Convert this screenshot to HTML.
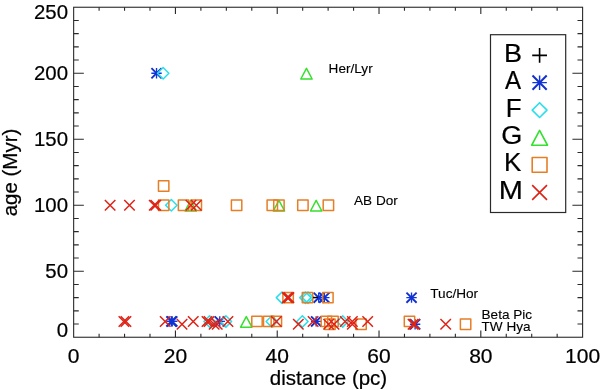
<!DOCTYPE html>
<html><head><meta charset="utf-8"><title>age vs distance</title>
<style>html,body{margin:0;padding:0;background:#fff}svg{display:block}text{font-family:"Liberation Sans",Arial,Helvetica,sans-serif;fill:#000}</style></head><body>
<svg width="600" height="390" viewBox="0 0 600 390">
<rect width="600" height="390" fill="#fff"/>
<rect x="73.65" y="7.25" width="508.95" height="330.00" fill="none" stroke="#2a2a2a" stroke-width="1.1"/>
<path d="M99.10 337.25v-3.4M99.10 7.25v3.4M124.55 337.25v-3.4M124.55 7.25v3.4M149.99 337.25v-3.4M149.99 7.25v3.4M175.44 337.25v-6.8M175.44 7.25v6.8M200.89 337.25v-3.4M200.89 7.25v3.4M226.34 337.25v-3.4M226.34 7.25v3.4M251.78 337.25v-3.4M251.78 7.25v3.4M277.23 337.25v-6.8M277.23 7.25v6.8M302.68 337.25v-3.4M302.68 7.25v3.4M328.12 337.25v-3.4M328.12 7.25v3.4M353.57 337.25v-3.4M353.57 7.25v3.4M379.02 337.25v-6.8M379.02 7.25v6.8M404.47 337.25v-3.4M404.47 7.25v3.4M429.91 337.25v-3.4M429.91 7.25v3.4M455.36 337.25v-3.4M455.36 7.25v3.4M480.81 337.25v-6.8M480.81 7.25v6.8M506.26 337.25v-3.4M506.26 7.25v3.4M531.71 337.25v-3.4M531.71 7.25v3.4M557.15 337.25v-3.4M557.15 7.25v3.4M73.65 324.05h5.1M582.6 324.05h-5.1M73.65 310.85h5.1M582.6 310.85h-5.1M73.65 297.65h5.1M582.6 297.65h-5.1M73.65 284.45h5.1M582.6 284.45h-5.1M73.65 271.25h10.2M582.6 271.25h-10.2M73.65 258.05h5.1M582.6 258.05h-5.1M73.65 244.85h5.1M582.6 244.85h-5.1M73.65 231.65h5.1M582.6 231.65h-5.1M73.65 218.45h5.1M582.6 218.45h-5.1M73.65 205.25h10.2M582.6 205.25h-10.2M73.65 192.05h5.1M582.6 192.05h-5.1M73.65 178.85h5.1M582.6 178.85h-5.1M73.65 165.65h5.1M582.6 165.65h-5.1M73.65 152.45h5.1M582.6 152.45h-5.1M73.65 139.25h10.2M582.6 139.25h-10.2M73.65 126.05h5.1M582.6 126.05h-5.1M73.65 112.85h5.1M582.6 112.85h-5.1M73.65 99.65h5.1M582.6 99.65h-5.1M73.65 86.45h5.1M582.6 86.45h-5.1M73.65 73.25h10.2M582.6 73.25h-10.2M73.65 60.05h5.1M582.6 60.05h-5.1M73.65 46.85h5.1M582.6 46.85h-5.1M73.65 33.65h5.1M582.6 33.65h-5.1M73.65 20.45h5.1M582.6 20.45h-5.1" stroke="#2a2a2a" stroke-width="1.1" fill="none"/>
<text transform="translate(73.7 362.6) scale(1.03 1)" font-size="20.4" text-anchor="middle" stroke="#000" stroke-width="0.22">0</text>
<text transform="translate(175.4 362.6) scale(1.03 1)" font-size="20.4" text-anchor="middle" stroke="#000" stroke-width="0.22">20</text>
<text transform="translate(277.2 362.6) scale(1.03 1)" font-size="20.4" text-anchor="middle" stroke="#000" stroke-width="0.22">40</text>
<text transform="translate(379.0 362.6) scale(1.03 1)" font-size="20.4" text-anchor="middle" stroke="#000" stroke-width="0.22">60</text>
<text transform="translate(480.8 362.6) scale(1.03 1)" font-size="20.4" text-anchor="middle" stroke="#000" stroke-width="0.22">80</text>
<text transform="translate(582.6 362.6) scale(1.03 1)" font-size="20.4" text-anchor="middle" stroke="#000" stroke-width="0.22">100</text>
<text transform="translate(68 18.8)" font-size="20.4" text-anchor="end" stroke="#000" stroke-width="0.22">250</text>
<text transform="translate(68 79.9)" font-size="20.4" text-anchor="end" stroke="#000" stroke-width="0.22">200</text>
<text transform="translate(68 145.9)" font-size="20.4" text-anchor="end" stroke="#000" stroke-width="0.22">150</text>
<text transform="translate(68 211.7)" font-size="20.4" text-anchor="end" stroke="#000" stroke-width="0.22">100</text>
<text transform="translate(68 277.7)" font-size="20.4" text-anchor="end" stroke="#000" stroke-width="0.22">50</text>
<text transform="translate(68 336.8)" font-size="20.4" text-anchor="end" stroke="#000" stroke-width="0.22">0</text>
<text transform="translate(328.5 385)" font-size="20.5" text-anchor="middle" stroke="#000" stroke-width="0.22">distance (pc)</text>
<text transform="translate(16.6 172.5) rotate(-90)" font-size="20.5" text-anchor="middle" stroke="#000" stroke-width="0.22">age (Myr)</text>
<path d="M151.34 73.25H161.72M156.53 68.06V78.44" stroke="#0838ea" stroke-width="1.35" fill="none"/><path d="M151.44 68.16L161.62 78.34M151.44 78.34L161.62 68.16" stroke="#1430cc" stroke-width="1.88" fill="none"/>
<path d="M313.52 297.65H323.90M318.71 292.46V302.84" stroke="#0838ea" stroke-width="1.35" fill="none"/><path d="M313.62 292.56L323.80 302.74M313.62 302.74L323.80 292.56" stroke="#1430cc" stroke-width="1.88" fill="none"/>
<path d="M319.13 297.65H329.51M324.32 292.46V302.84" stroke="#0838ea" stroke-width="1.35" fill="none"/><path d="M319.23 292.56L329.41 302.74M319.23 302.74L329.41 292.56" stroke="#1430cc" stroke-width="1.88" fill="none"/>
<path d="M406.34 297.65H416.72M411.53 292.46V302.84" stroke="#0838ea" stroke-width="1.35" fill="none"/><path d="M406.44 292.56L416.62 302.74M406.44 302.74L416.62 292.56" stroke="#1430cc" stroke-width="1.88" fill="none"/>
<path d="M166.23 321.41H176.62M171.42 316.22V326.60" stroke="#0838ea" stroke-width="1.35" fill="none"/><path d="M166.33 316.32L176.51 326.50M166.33 326.50L176.51 316.32" stroke="#1430cc" stroke-width="1.88" fill="none"/>
<path d="M167.04 321.41H177.43M172.24 316.22V326.60" stroke="#0838ea" stroke-width="1.35" fill="none"/><path d="M167.15 316.32L177.33 326.50M167.15 326.50L177.33 316.32" stroke="#1430cc" stroke-width="1.88" fill="none"/>
<path d="M214.58 321.41H224.96M219.77 316.22V326.60" stroke="#0838ea" stroke-width="1.35" fill="none"/><path d="M214.68 316.32L224.86 326.50M214.68 326.50L224.86 316.32" stroke="#1430cc" stroke-width="1.88" fill="none"/>
<path d="M310.97 321.41H321.35M316.16 316.22V326.60" stroke="#0838ea" stroke-width="1.35" fill="none"/><path d="M311.07 316.32L321.25 326.50M311.07 326.50L321.25 316.32" stroke="#1430cc" stroke-width="1.88" fill="none"/>
<path d="M409.91 324.25H420.29M415.10 319.05V329.44" stroke="#0838ea" stroke-width="1.35" fill="none"/><path d="M410.01 319.16L420.19 329.34M410.01 329.34L420.19 319.16" stroke="#1430cc" stroke-width="1.88" fill="none"/>
<path d="M157.46 73.25L163.16 67.55L168.86 73.25L163.16 78.95Z" stroke="#2adfec" stroke-width="1.5" fill="none" stroke-linejoin="round"/>
<path d="M165.62 205.25L171.32 199.55L177.02 205.25L171.32 210.95Z" stroke="#2adfec" stroke-width="1.5" fill="none" stroke-linejoin="round"/>
<path d="M276.29 297.65L281.99 291.95L287.69 297.65L281.99 303.35Z" stroke="#2adfec" stroke-width="1.5" fill="none" stroke-linejoin="round"/>
<path d="M299.75 297.65L305.45 291.95L311.15 297.65L305.45 303.35Z" stroke="#2adfec" stroke-width="1.5" fill="none" stroke-linejoin="round"/>
<path d="M302.30 297.65L308.00 291.95L313.70 297.65L308.00 303.35Z" stroke="#2adfec" stroke-width="1.5" fill="none" stroke-linejoin="round"/>
<path d="M203.87 321.41L209.57 315.71L215.27 321.41L209.57 327.11Z" stroke="#2adfec" stroke-width="1.5" fill="none" stroke-linejoin="round"/>
<path d="M220.19 321.41L225.89 315.71L231.59 321.41L225.89 327.11Z" stroke="#2adfec" stroke-width="1.5" fill="none" stroke-linejoin="round"/>
<path d="M266.09 321.41L271.79 315.71L277.49 321.41L271.79 327.11Z" stroke="#2adfec" stroke-width="1.5" fill="none" stroke-linejoin="round"/>
<path d="M296.69 321.41L302.39 315.71L308.09 321.41L302.39 327.11Z" stroke="#2adfec" stroke-width="1.5" fill="none" stroke-linejoin="round"/>
<path d="M336.98 321.41L342.68 315.71L348.38 321.41L342.68 327.11Z" stroke="#2adfec" stroke-width="1.5" fill="none" stroke-linejoin="round"/>
<path d="M300.80 79.00L306.47 68.40L312.14 79.00Z" stroke="#36e02e" stroke-width="1.5" fill="none" stroke-linejoin="round"/>
<path d="M185.03 211.00L190.70 200.40L196.37 211.00Z" stroke="#36e02e" stroke-width="1.5" fill="none" stroke-linejoin="round"/>
<path d="M273.26 211.00L278.93 200.40L284.60 211.00Z" stroke="#36e02e" stroke-width="1.5" fill="none" stroke-linejoin="round"/>
<path d="M310.49 211.00L316.16 200.40L321.83 211.00Z" stroke="#36e02e" stroke-width="1.5" fill="none" stroke-linejoin="round"/>
<path d="M240.62 327.16L246.29 316.56L251.96 327.16Z" stroke="#36e02e" stroke-width="1.5" fill="none" stroke-linejoin="round"/>
<rect x="158.47" y="180.78" width="10.40" height="10.40" stroke="#e67e26" stroke-width="1.5" fill="none" stroke-linejoin="round"/>
<rect x="158.47" y="200.05" width="10.40" height="10.40" stroke="#e67e26" stroke-width="1.5" fill="none" stroke-linejoin="round"/>
<rect x="178.36" y="200.05" width="10.40" height="10.40" stroke="#e67e26" stroke-width="1.5" fill="none" stroke-linejoin="round"/>
<rect x="191.11" y="200.05" width="10.40" height="10.40" stroke="#e67e26" stroke-width="1.5" fill="none" stroke-linejoin="round"/>
<rect x="231.40" y="200.05" width="10.40" height="10.40" stroke="#e67e26" stroke-width="1.5" fill="none" stroke-linejoin="round"/>
<rect x="267.10" y="200.05" width="10.40" height="10.40" stroke="#e67e26" stroke-width="1.5" fill="none" stroke-linejoin="round"/>
<rect x="273.73" y="200.05" width="10.40" height="10.40" stroke="#e67e26" stroke-width="1.5" fill="none" stroke-linejoin="round"/>
<rect x="297.70" y="200.05" width="10.40" height="10.40" stroke="#e67e26" stroke-width="1.5" fill="none" stroke-linejoin="round"/>
<rect x="323.20" y="200.05" width="10.40" height="10.40" stroke="#e67e26" stroke-width="1.5" fill="none" stroke-linejoin="round"/>
<rect x="282.91" y="292.45" width="10.40" height="10.40" stroke="#e67e26" stroke-width="1.5" fill="none" stroke-linejoin="round"/>
<rect x="302.29" y="292.45" width="10.40" height="10.40" stroke="#e67e26" stroke-width="1.5" fill="none" stroke-linejoin="round"/>
<rect x="322.69" y="292.45" width="10.40" height="10.40" stroke="#e67e26" stroke-width="1.5" fill="none" stroke-linejoin="round"/>
<rect x="251.80" y="316.21" width="10.40" height="10.40" stroke="#e67e26" stroke-width="1.5" fill="none" stroke-linejoin="round"/>
<rect x="263.53" y="316.21" width="10.40" height="10.40" stroke="#e67e26" stroke-width="1.5" fill="none" stroke-linejoin="round"/>
<rect x="271.18" y="316.21" width="10.40" height="10.40" stroke="#e67e26" stroke-width="1.5" fill="none" stroke-linejoin="round"/>
<rect x="321.16" y="316.21" width="10.40" height="10.40" stroke="#e67e26" stroke-width="1.5" fill="none" stroke-linejoin="round"/>
<rect x="327.79" y="316.21" width="10.40" height="10.40" stroke="#e67e26" stroke-width="1.5" fill="none" stroke-linejoin="round"/>
<rect x="404.29" y="316.21" width="10.40" height="10.40" stroke="#e67e26" stroke-width="1.5" fill="none" stroke-linejoin="round"/>
<rect x="324.73" y="319.05" width="10.40" height="10.40" stroke="#e67e26" stroke-width="1.5" fill="none" stroke-linejoin="round"/>
<rect x="355.84" y="319.05" width="10.40" height="10.40" stroke="#e67e26" stroke-width="1.5" fill="none" stroke-linejoin="round"/>
<rect x="460.39" y="319.05" width="10.40" height="10.40" stroke="#e67e26" stroke-width="1.5" fill="none" stroke-linejoin="round"/>
<path d="M104.87 200.00L115.37 210.50M104.87 210.50L115.37 200.00" stroke="#de2216" stroke-width="1.5" fill="none" stroke-linejoin="round"/>
<path d="M124.25 200.00L134.75 210.50M124.25 210.50L134.75 200.00" stroke="#de2216" stroke-width="1.5" fill="none" stroke-linejoin="round"/>
<path d="M148.99 200.00L159.49 210.50M148.99 210.50L159.49 200.00" stroke="#de2216" stroke-width="1.5" fill="none" stroke-linejoin="round"/>
<path d="M150.51 200.00L161.01 210.50M150.51 210.50L161.01 200.00" stroke="#de2216" stroke-width="1.5" fill="none" stroke-linejoin="round"/>
<path d="M185.70 200.00L196.20 210.50M185.70 210.50L196.20 200.00" stroke="#de2216" stroke-width="1.5" fill="none" stroke-linejoin="round"/>
<path d="M191.06 200.00L201.56 210.50M191.06 210.50L201.56 200.00" stroke="#de2216" stroke-width="1.5" fill="none" stroke-linejoin="round"/>
<path d="M282.10 292.40L292.60 302.90M282.10 302.90L292.60 292.40" stroke="#de2216" stroke-width="1.5" fill="none" stroke-linejoin="round"/>
<path d="M283.62 292.40L294.12 302.90M283.62 302.90L294.12 292.40" stroke="#de2216" stroke-width="1.5" fill="none" stroke-linejoin="round"/>
<path d="M118.64 316.16L129.14 326.66M118.64 326.66L129.14 316.16" stroke="#de2216" stroke-width="1.5" fill="none" stroke-linejoin="round"/>
<path d="M120.68 316.16L131.18 326.66M120.68 326.66L131.18 316.16" stroke="#de2216" stroke-width="1.5" fill="none" stroke-linejoin="round"/>
<path d="M159.95 316.16L170.45 326.66M159.95 326.66L170.45 316.16" stroke="#de2216" stroke-width="1.5" fill="none" stroke-linejoin="round"/>
<path d="M188.00 316.16L198.50 326.66M188.00 326.66L198.50 316.16" stroke="#de2216" stroke-width="1.5" fill="none" stroke-linejoin="round"/>
<path d="M201.77 316.16L212.27 326.66M201.77 326.66L212.27 316.16" stroke="#de2216" stroke-width="1.5" fill="none" stroke-linejoin="round"/>
<path d="M203.81 316.16L214.31 326.66M203.81 326.66L214.31 316.16" stroke="#de2216" stroke-width="1.5" fill="none" stroke-linejoin="round"/>
<path d="M222.68 316.16L233.18 326.66M222.68 326.66L233.18 316.16" stroke="#de2216" stroke-width="1.5" fill="none" stroke-linejoin="round"/>
<path d="M271.13 316.16L281.63 326.66M271.13 326.66L281.63 316.16" stroke="#de2216" stroke-width="1.5" fill="none" stroke-linejoin="round"/>
<path d="M307.85 316.16L318.35 326.66M307.85 326.66L318.35 316.16" stroke="#de2216" stroke-width="1.5" fill="none" stroke-linejoin="round"/>
<path d="M339.98 316.16L350.48 326.66M339.98 326.66L350.48 316.16" stroke="#de2216" stroke-width="1.5" fill="none" stroke-linejoin="round"/>
<path d="M347.12 316.16L357.62 326.66M347.12 326.66L357.62 316.16" stroke="#de2216" stroke-width="1.5" fill="none" stroke-linejoin="round"/>
<path d="M362.42 316.16L372.92 326.66M362.42 326.66L372.92 316.16" stroke="#de2216" stroke-width="1.5" fill="none" stroke-linejoin="round"/>
<path d="M176.78 319.00L187.28 329.50M176.78 329.50L187.28 319.00" stroke="#de2216" stroke-width="1.5" fill="none" stroke-linejoin="round"/>
<path d="M208.91 319.00L219.41 329.50M208.91 329.50L219.41 319.00" stroke="#de2216" stroke-width="1.5" fill="none" stroke-linejoin="round"/>
<path d="M211.97 319.00L222.47 329.50M211.97 329.50L222.47 319.00" stroke="#de2216" stroke-width="1.5" fill="none" stroke-linejoin="round"/>
<path d="M293.06 319.00L303.56 329.50M293.06 329.50L303.56 319.00" stroke="#de2216" stroke-width="1.5" fill="none" stroke-linejoin="round"/>
<path d="M323.40 319.00L333.90 329.50M323.40 329.50L333.90 319.00" stroke="#de2216" stroke-width="1.5" fill="none" stroke-linejoin="round"/>
<path d="M328.76 319.00L339.26 329.50M328.76 329.50L339.26 319.00" stroke="#de2216" stroke-width="1.5" fill="none" stroke-linejoin="round"/>
<path d="M347.12 319.00L357.62 329.50M347.12 329.50L357.62 319.00" stroke="#de2216" stroke-width="1.5" fill="none" stroke-linejoin="round"/>
<path d="M407.81 319.00L418.31 329.50M407.81 329.50L418.31 319.00" stroke="#de2216" stroke-width="1.5" fill="none" stroke-linejoin="round"/>
<path d="M409.34 319.00L419.84 329.50M409.34 329.50L419.84 319.00" stroke="#de2216" stroke-width="1.5" fill="none" stroke-linejoin="round"/>
<path d="M440.45 319.00L450.95 329.50M440.45 329.50L450.95 319.00" stroke="#de2216" stroke-width="1.5" fill="none" stroke-linejoin="round"/>
<path d="M313 297.5h5" stroke="#000" stroke-width="1.3"/>
<text transform="translate(328.6 73.2)" font-size="13.6" text-anchor="start" stroke="#000" stroke-width="0.12">Her/Lyr</text>
<text transform="translate(354 205.3)" font-size="13.6" text-anchor="start" stroke="#000" stroke-width="0.12">AB Dor</text>
<text transform="translate(430.3 297.7)" font-size="13.6" text-anchor="start" stroke="#000" stroke-width="0.12">Tuc/Hor</text>
<text transform="translate(481.5 319.0)" font-size="13.6" text-anchor="start" stroke="#000" stroke-width="0.12">Beta Pic</text>
<text transform="translate(481.5 330.7)" font-size="13.6" text-anchor="start" stroke="#000" stroke-width="0.12">TW Hya</text>
<rect x="490.5" y="34.7" width="75.2" height="177.8" fill="#fff" stroke="#2a2a2a" stroke-width="1.2"/>
<text transform="translate(503.88 61.5) scale(1.053 1)" font-size="25.7" text-anchor="start" stroke="#000" stroke-width="0.2">B</text>
<path d="M532.20 55.40H547.00M539.60 48.00V62.80" stroke="#000000" stroke-width="1.6" fill="none" stroke-linejoin="round"/>
<text transform="translate(504.95 88.9) scale(0.939 1)" font-size="25.7" text-anchor="start" stroke="#000" stroke-width="0.2">A</text>
<path d="M532.35 82.65H546.85M539.60 75.40V89.90" stroke="#0838ea" stroke-width="1.44" fill="none"/><path d="M532.50 75.55L546.70 89.75M532.50 89.75L546.70 75.55" stroke="#1430cc" stroke-width="2.00" fill="none"/>
<text transform="translate(505.67 116.5) scale(1.011 1)" font-size="25.7" text-anchor="start" stroke="#000" stroke-width="0.2">F</text>
<path d="M532.20 110.10L539.60 102.70L547.00 110.10L539.60 117.50Z" stroke="#2adfec" stroke-width="1.6" fill="none" stroke-linejoin="round"/>
<text transform="translate(501.14 144.0) scale(1.055 1)" font-size="25.7" text-anchor="start" stroke="#000" stroke-width="0.2">G</text>
<path d="M531.68 145.25L539.60 130.45L547.52 145.25Z" stroke="#36e02e" stroke-width="1.6" fill="none" stroke-linejoin="round"/>
<text transform="translate(503.97 171.4) scale(1.011 1)" font-size="25.7" text-anchor="start" stroke="#000" stroke-width="0.2">K</text>
<rect x="532.20" y="157.50" width="14.80" height="14.80" stroke="#e67e26" stroke-width="1.6" fill="none" stroke-linejoin="round"/>
<text transform="translate(498.72 199.0) scale(1.128 1)" font-size="25.7" text-anchor="start" stroke="#000" stroke-width="0.2">M</text>
<path d="M532.20 185.10L547.00 199.90M532.20 199.90L547.00 185.10" stroke="#de2216" stroke-width="1.6" fill="none" stroke-linejoin="round"/>
</svg></body></html>
